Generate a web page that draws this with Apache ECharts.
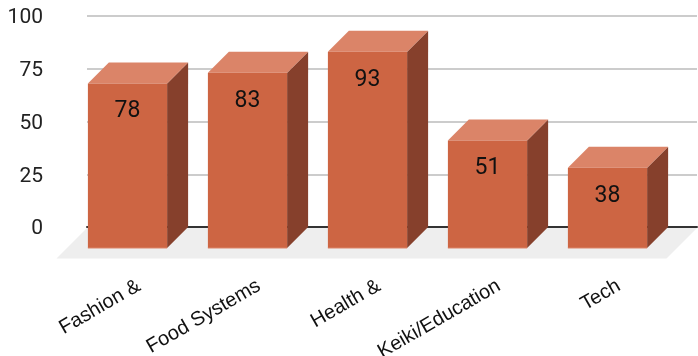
<!DOCTYPE html>
<html><head><meta charset="utf-8">
<style>html,body{margin:0;padding:0;background:#fff}#c{width:698px;height:356px}</style>
<script src="https://cdn.jsdelivr.net/npm/echarts@6/dist/echarts.min.js"></script>
</head><body><div id="c"></div>
<script>
const categories = ['Fashion &', 'Food Systems', 'Health &', 'Keiki/Education', 'Tech'];
const values = [78, 83, 93, 51, 38];
const yTicks = [0, 25, 50, 75, 100];

const DEPTH = 21, FLOOR = 30.5, BAR_RATIO = 0.66;
const FRONT = '#CD6543', TOP = '#DB8468', SIDE = '#86402C', EDGE = '#DB8468';

const chart = echarts.init(document.getElementById('c'), null, {renderer: 'canvas'});
chart.setOption({
  animation: false,
  backgroundColor: '#fff',
  grid: [
    {left: 87, right: 1, top: 16, bottom: 129, outerBoundsMode: 'none'},
    {left: 88.5, width: 600, top: 16, bottom: 129, outerBoundsMode: 'none'}
  ],
  xAxis: [
    {gridIndex: 0, type: 'value', min: 0, max: 1, splitLine: {show: false},
      axisTick: {show: false}, axisLabel: {show: false},
      axisLine: {show: true, onZero: false, lineStyle: {color: '#333', width: 2}}},
    {gridIndex: 1, type: 'category', data: categories,
      axisLine: {show: false}, axisTick: {show: false},
      axisLabel: {interval: 0, rotate: 30, margin: 52, fontFamily: 'Liberation Sans', fontSize: 20, color: '#111', padding: [0, 11, 0, 0]}}
  ],
  yAxis: [
    {gridIndex: 0, type: 'value', min: 0, max: 100, interval: 25,
      axisLine: {show: false}, axisTick: {show: false},
      splitLine: {showMinLine: false, lineStyle: {color: '#ccc', width: 2}},
      axisLabel: {margin: 44, verticalAlign: 'top', lineHeight: 4, fontFamily: 'Roboto', fontSize: 21, color: '#222',
        customValues: yTicks}},
    {gridIndex: 1, type: 'value', min: 0, max: 100, show: false}
  ],
  series: [
    {type: 'custom', xAxisIndex: 0, yAxisIndex: 0, silent: true, z: 1, clip: false,
      data: [[0, 0]],
      renderItem(params, api) {
        const r = params.coordSys, y = r.y + r.height + 1;
        return {type: 'polygon', shape: {points: [
          [r.x, y], [r.x + r.width, y],
          [r.x + r.width - FLOOR, y + FLOOR], [r.x - FLOOR, y + FLOOR]
        ]}, style: {fill: '#EEEEEE'}};
      }},
    {type: 'custom', xAxisIndex: 1, yAxisIndex: 1, silent: true, z: 5, clip: false,
      data: values.map((v, i) => [i, v]),
      encode: {x: 0, y: 1},
      renderItem(params, api) {
        const p = api.coord([api.value(0), api.value(1)]);
        const b = api.coord([api.value(0), 0]);
        const w = api.size([1, 0])[0] * BAR_RATIO;
        const xl = p[0] - w / 2 - DEPTH, xr = xl + w;
        const yt = p[1] + DEPTH, yb = b[1] + DEPTH;
        return {type: 'group', children: [
          {type: 'polygon', shape: {points: [[xr, yt], [xr + DEPTH, yt - DEPTH], [xr + DEPTH, yb - DEPTH], [xr, yb]]}, style: {fill: SIDE}},
          {type: 'polygon', shape: {points: [[xl, yt], [xl + DEPTH, yt - DEPTH], [xr + DEPTH, yt - DEPTH], [xr, yt]]}, style: {fill: TOP}},
          {type: 'rect', shape: {x: xl, y: yt, width: w, height: yb - yt}, style: {fill: FRONT}},
          {type: 'line', shape: {x1: xl, y1: yb, x2: xr, y2: yb}, style: {stroke: EDGE, lineWidth: 1}},
          {type: 'text', style: {x: xl + w / 2, y: yt + 28, text: String(api.value(1)), fill: '#111',
            font: '23px Roboto', align: 'center', verticalAlign: 'middle'}}
        ]};
      }}
  ]
});
</script></body></html>
